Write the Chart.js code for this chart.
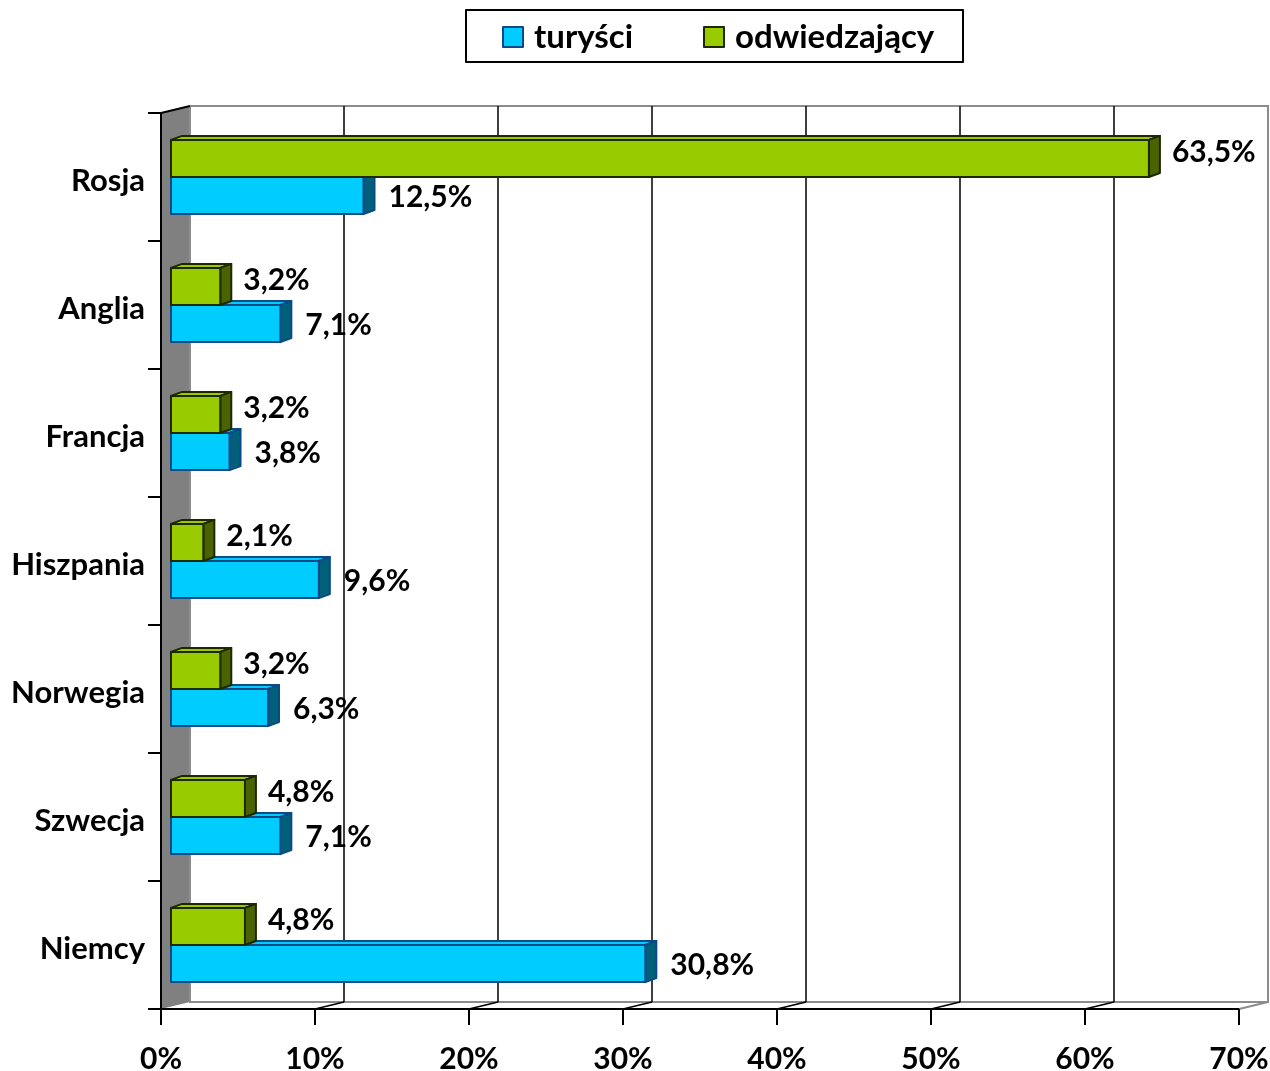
<!DOCTYPE html>
<html>
<head>
<meta charset="utf-8">
<script src="https://cdn.jsdelivr.net/npm/chart.js@4.4.1/dist/chart.umd.min.js"></script>
<style>
  body { margin: 0; background: #fff; }
  #wrap { width: 1270px; height: 1071px; }
</style>
</head>
<body>
<div id="wrap"><canvas id="plots" width="1270" height="1071"></canvas></div>
<script>
// data
var kraje = ["Rosja", "Anglia", "Francja", "Hiszpania", "Norwegia", "Szwecja", "Niemcy"];
var turysci = [12.5, 7.1, 3.8, 9.6, 6.3, 7.1, 30.8];
var odwiedzajacy = [63.5, 3.2, 3.2, 2.1, 3.2, 4.8, 4.8];
var xTicks = [0, 10, 20, 30, 40, 50, 60, 70];

var FONT = "Lato, 'Open Sans', sans-serif";
var CYAN = '#00CCFF', CYAN_SIDE = '#00607A', CYAN_EDGE = '#0A4A86';
var GREEN = '#99CC00', GREEN_SIDE = '#4A6300', GREEN_EDGE = '#1E2800';
var DX = 11, DY = -4;       // depth of the bars
var WX = 29, WY = -7;       // depth of the walls

function fmt(v) { return v.toFixed(1).replace('.', ',') + '%'; }

// 3D frame, bars, labels and legend
var frame3d = {
  id: 'frame3d',
  beforeDatasetsDraw: function(chart) {
    var ctx = chart.ctx, x = chart.scales.x, a = chart.chartArea;
    var f0 = x.getPixelForValue(0) - 10;      // front 0
    var fEnd = x.getPixelForValue(70) - 10;
    var top = a.top, bot = a.bottom;
    ctx.save();
    // left wall
    ctx.beginPath();
    ctx.moveTo(f0, top); ctx.lineTo(f0 + WX, top + WY);
    ctx.lineTo(f0 + WX, bot + WY); ctx.lineTo(f0, bot); ctx.closePath();
    ctx.fillStyle = '#808080'; ctx.fill();
    // back wall outline (grey)
    ctx.strokeStyle = '#8c8c8c'; ctx.lineWidth = 2;
    ctx.beginPath();
    ctx.moveTo(f0 + WX, top + WY); ctx.lineTo(fEnd + WX, top + WY);
    ctx.lineTo(fEnd + WX, bot + WY); ctx.lineTo(f0 + WX, bot + WY);
    ctx.lineTo(f0 + WX, top + WY);
    ctx.moveTo(fEnd, bot); ctx.lineTo(fEnd + WX, bot + WY);
    ctx.stroke();
    // grid lines on the back wall
    ctx.strokeStyle = '#000'; ctx.lineWidth = 1.5;
    xTicks.forEach(function(v) {
      if (v === 0 || v === 70) return;
      var px = x.getPixelForValue(v) - 10;
      ctx.beginPath();
      ctx.moveTo(px + WX, top + WY); ctx.lineTo(px + WX, bot + WY);
      ctx.moveTo(px, bot); ctx.lineTo(px + WX, bot + WY);
      ctx.stroke();
    });
    // front axis, ticks
    ctx.lineWidth = 2;
    ctx.beginPath();
    ctx.moveTo(f0, bot); ctx.lineTo(fEnd, bot);
    xTicks.forEach(function(v) {
      var px = x.getPixelForValue(v) - 10;
      ctx.moveTo(px, bot); ctx.lineTo(px, bot + 16);
    });
    // y axis and its ticks
    ctx.moveTo(f0, top); ctx.lineTo(f0, bot);
    ctx.moveTo(f0, top); ctx.lineTo(f0 + WX, top + WY);
    for (var i = 0; i <= kraje.length; i++) {
      var py = top + (bot - top) * i / kraje.length;
      ctx.moveTo(f0 - 13, py); ctx.lineTo(f0, py);
    }
    ctx.stroke();
    ctx.restore();
  },
  afterDatasetsDraw: function(chart) {
    var ctx = chart.ctx;
    var green = chart.getDatasetMeta(0).data;
    var cyan = chart.getDatasetMeta(1).data;
    ctx.save();
    ctx.lineJoin = 'round';
    function box(el, face, side, edge) {
      var l = el.base, r = el.x, t = el.y - el.height / 2, b = el.y + el.height / 2;
      ctx.lineWidth = 2; ctx.strokeStyle = edge;
      // top
      ctx.beginPath();
      ctx.moveTo(l, t); ctx.lineTo(l + DX, t + DY); ctx.lineTo(r + DX, t + DY); ctx.lineTo(r, t); ctx.closePath();
      ctx.fillStyle = face; ctx.fill(); ctx.stroke();
      // side
      ctx.beginPath();
      ctx.moveTo(r, t); ctx.lineTo(r + DX, t + DY); ctx.lineTo(r + DX, b + DY); ctx.lineTo(r, b); ctx.closePath();
      ctx.fillStyle = side; ctx.fill(); ctx.stroke();
      // front
      ctx.beginPath();
      ctx.rect(l, t, r - l, b - t);
      ctx.fillStyle = face; ctx.fill(); ctx.stroke();
    }
    for (var i = 0; i < kraje.length; i++) {
      box(cyan[i], CYAN, CYAN_SIDE, CYAN_EDGE);
      box(green[i], GREEN, GREEN_SIDE, GREEN_EDGE);
    }
    // value labels
    ctx.fillStyle = '#000';
    ctx.font = 'bold 30px ' + FONT;
    ctx.textBaseline = 'middle';
    ctx.textAlign = 'left';
    for (var j = 0; j < kraje.length; j++) {
      ctx.fillText(fmt(odwiedzajacy[j]), green[j].x + DX + 12, green[j].y - 6);
      ctx.fillText(fmt(turysci[j]), cyan[j].x + DX + 14, cyan[j].y + 2);
    }
    // legend
    ctx.lineWidth = 2; ctx.strokeStyle = '#000';
    ctx.strokeRect(466, 10, 497, 52);
    ctx.font = 'bold 33px ' + FONT;
    ctx.textBaseline = 'alphabetic';
    var items = [
      { label: 'turyści', color: CYAN, edge: CYAN_EDGE, x: 503 },
      { label: 'odwiedzający', color: GREEN, edge: GREEN_EDGE, x: 704 }
    ];
    items.forEach(function(it) {
      ctx.fillStyle = it.color; ctx.strokeStyle = it.edge;
      ctx.fillRect(it.x, 27, 20, 20); ctx.strokeRect(it.x, 27, 20, 20);
      ctx.fillStyle = '#000';
      ctx.fillText(it.label, it.x + 31, 48);
    });
    ctx.restore();
  }
};

new Chart(document.getElementById("plots"), {
  type: 'bar',
  data: {
    labels: kraje,
    datasets: [
      { label: 'odwiedzający', data: odwiedzajacy, backgroundColor: 'rgba(0,0,0,0)', borderWidth: 0 },
      { label: 'turyści', data: turysci, backgroundColor: 'rgba(0,0,0,0)', borderWidth: 0 }
    ]
  },
  options: {
    indexAxis: 'y',
    responsive: false,
    animation: false,
    categoryPercentage: 0.58,
    barPercentage: 1.0,
    layout: { padding: { top: 113, left: 0, right: 21, bottom: 0 } },
    plugins: { legend: { display: false }, tooltip: { enabled: false } },
    scales: {
      x: {
        min: 0, max: 70,
        afterFit: function(s) { s.height = 62; s.paddingLeft = 0; s.paddingRight = 0; },
        afterBuildTicks: function(s) { s.ticks = xTicks.map(function(v) { return { value: v }; }); },
        grid: { display: false },
        border: { display: false },
        ticks: {
          callback: function(v) { return v + '%'; },
          labelOffset: -10,
          padding: 24,
          color: '#000',
          font: { family: FONT, size: 30, weight: 'bold' }
        }
      },
      y: {
        afterFit: function(s) { s.width = 171; s.paddingTop = 0; s.paddingBottom = 0; },
        grid: { display: false },
        border: { display: false },
        ticks: {
          padding: 18,
          labelOffset: 4,
          color: '#000',
          font: { family: FONT, size: 31, weight: 'bold' }
        }
      }
    }
  },
  plugins: [frame3d]
});
</script>
</body>
</html>
